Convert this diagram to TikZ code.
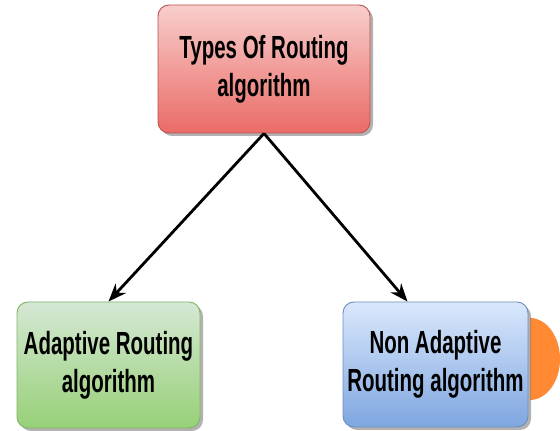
\documentclass[tikz,border=0pt]{standalone}
\usepackage{fontspec}
\newfontfamily\boxfont[FakeStretch=0.64]{Liberation Sans}
\usetikzlibrary{arrows.meta,shadows,calc}
\definecolor{redtop}{HTML}{F8CECC}
\definecolor{redbot}{HTML}{EA6B66}
\definecolor{redline}{HTML}{B85450}
\definecolor{greentop}{HTML}{D5E8D4}
\definecolor{greenbot}{HTML}{97D077}
\definecolor{greenline}{HTML}{82B366}
\definecolor{bluetop}{HTML}{DAE8FC}
\definecolor{bluebot}{HTML}{7EA6E0}
\definecolor{blueline}{HTML}{6C8EBF}
\definecolor{accent}{HTML}{FF8A33}
\tikzset{
  card/.style={rounded corners=11pt, line width=0.9pt, align=center,
    font=\boxfont\bfseries\fontsize{32}{38}\selectfont,
    drop shadow={shadow xshift=3pt, shadow yshift=-3pt, fill=black!50, opacity=0.6},
    inner sep=0pt},
  redcard/.style={card, draw=redline, top color=redtop, bottom color=redbot},
  greencard/.style={card, draw=greenline, top color=greentop, bottom color=greenbot},
  bluecard/.style={card, draw=blueline, top color=bluetop, bottom color=bluebot},
  link/.style={line width=2.8pt, -{Stealth[length=18pt, width=14pt]}}
}
\begin{document}
\begin{tikzpicture}[x=1pt, y=1pt]
  \useasboundingbox (0,0) rectangle (560,431);
  \fill[white] (0,0) rectangle (560,431);
  % orange half disc at the right edge, behind the cards
  \fill[accent] (530,113) arc[start angle=90, end angle=-90, x radius=30, y radius=41] -- cycle;
  % cards
  \node[redcard, minimum width=212pt, minimum height=128pt] (types) at (264,362)
    {Types Of Routing\\algorithm};
  \node[greencard, minimum width=183pt, minimum height=126pt] (adaptive) at (108.5,66)
    {Adaptive Routing\\algorithm};
  \node[bluecard, minimum width=185pt, minimum height=125pt] (nonadaptive) at (435.5,66.5)
    {Non Adaptive\\Routing algorithm};
  % connectors
  \draw[link] (types.south) -- (adaptive.north);
  \draw[link] (types.south) -- ([xshift=-28pt]nonadaptive.north);
\end{tikzpicture}
\end{document}
